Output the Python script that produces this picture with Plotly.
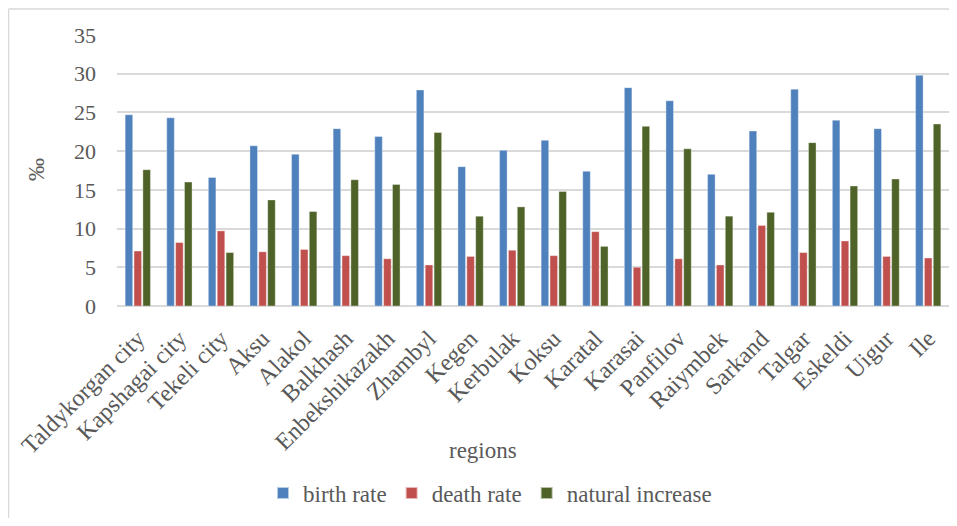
import plotly.graph_objects as go

regions = ["Taldykorgan city", "Kapshagai city", "Tekeli city", "Aksu", "Alakol",
           "Balkhash", "Enbekshikazakh", "Zhambyl", "Kegen", "Kerbulak", "Koksu",
           "Karatal", "Karasai", "Panfilov", "Raiymbek", "Sarkand", "Talgar",
           "Eskeldi", "Uigur", "Ile"]
birth_rate = [24.7, 24.3, 16.6, 20.7, 19.6, 22.9, 21.9, 27.9, 18.0, 20.1, 21.4,
              17.4, 28.2, 26.5, 17.0, 22.6, 28.0, 24.0, 22.9, 29.8]
death_rate = [7.1, 8.2, 9.7, 7.0, 7.3, 6.5, 6.1, 5.3, 6.4, 7.2, 6.5,
              9.6, 5.0, 6.1, 5.3, 10.4, 6.9, 8.4, 6.4, 6.2]
natural_increase = [17.6, 16.0, 6.9, 13.7, 12.2, 16.3, 15.7, 22.4, 11.6, 12.8, 14.8,
                    7.7, 23.2, 20.3, 11.6, 12.1, 21.1, 15.5, 16.4, 23.5]
y_ticks = [0, 5, 10, 15, 20, 25, 30, 35]

FONT = "Liberation Serif"
GRAY = "#595959"

OFF = 8  # page body margin
W, H = 957 - 2 * OFF, 526 - 2 * OFF
PLOT_L, PLOT_R, PLOT_T, PLOT_B = 117, OFF + W, 35, 306  # page pixels
ML = PLOT_L - OFF
MR = W - (PLOT_R - OFF)
MT = PLOT_T - OFF
MB = H - (PLOT_B - OFF)
PW = PLOT_R - PLOT_L
PH = PLOT_B - PLOT_T


def px_x(px):
    return (px - PLOT_L) / PW


def px_y(py):
    return (PLOT_B - py) / PH


fig = go.Figure()
for name, vals, col in [("birth rate", birth_rate, "#4F81BD"),
                        ("death rate", death_rate, "#C0504D"),
                        ("natural increase", natural_increase, "#4F6228")]:
    fig.add_trace(go.Bar(x=regions, y=vals, name=name,
                         marker=dict(color=col, line=dict(width=0.6, color="rgba(255,255,255,0.6)"))))

fig.update_layout(
    width=W, height=H,
    margin=dict(l=ML, r=MR, t=MT, b=MB),
    paper_bgcolor="white", plot_bgcolor="white",
    barmode="group", bargap=0.36, bargroupgap=0.15,
    font=dict(family=FONT, size=22, color=GRAY),
    showlegend=True,
    legend=dict(orientation="h", x=px_x(490), xanchor="center", y=px_y(493), yanchor="middle",
                font=dict(family=FONT, size=23, color=GRAY),
                itemsizing="constant", traceorder="normal", itemwidth=30),
    xaxis=dict(tickangle=-45, showgrid=False, showline=False, zeroline=False,
               tickfont=dict(family=FONT, size=24, color=GRAY),
               ticks="outside", ticklen=8, tickcolor="rgba(0,0,0,0)"),
    yaxis=dict(range=[0, 35], tickvals=y_ticks, showgrid=True, gridcolor="#D9D9D9",
               gridwidth=1.5, zeroline=True, zerolinecolor="#D9D9D9", zerolinewidth=1.5,
               showline=False, ticks="", ticklabelstandoff=20,
               tickfont=dict(family=FONT, size=22, color=GRAY)),
    annotations=[
        dict(text="‰", xref="paper", yref="paper", x=px_x(36), y=px_y(170),
             showarrow=False, textangle=-90, font=dict(family=FONT, size=23, color=GRAY),
             xanchor="center", yanchor="middle"),
        dict(text="regions", xref="paper", yref="paper", x=px_x(483), y=px_y(450),
             showarrow=False, font=dict(family=FONT, size=23, color=GRAY),
             xanchor="center", yanchor="middle"),
    ],
    shapes=[
        dict(type="line", xref="paper", yref="paper", x0=px_x(8.5), x1=px_x(8.5),
             y0=px_y(9), y1=px_y(530), line=dict(color="#D9D9D9", width=1.5)),
        dict(type="line", xref="paper", yref="paper", x0=px_x(8.5), x1=px_x(960),
             y0=px_y(9), y1=px_y(9), line=dict(color="#D9D9D9", width=1.5)),
    ],
)

fig.write_html("out.html")
